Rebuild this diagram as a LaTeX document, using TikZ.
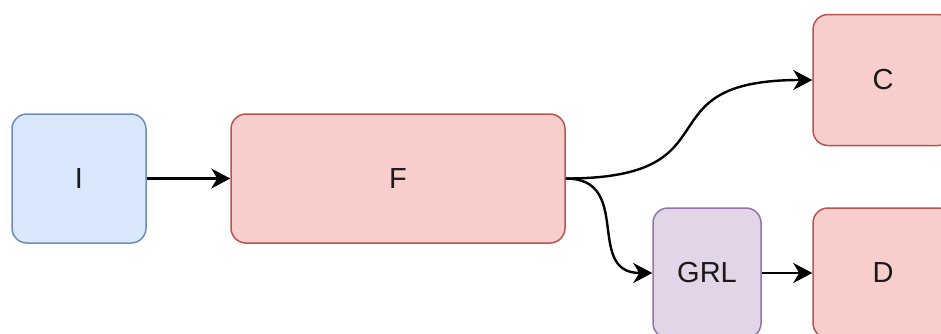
\documentclass[tikz,border=0pt]{standalone}
\usepackage{fontspec}
\setmainfont{Liberation Sans}
\usetikzlibrary{arrows.meta}
\definecolor{bluefill}{HTML}{DAE8FC}
\definecolor{bluedraw}{HTML}{6C8EBF}
\definecolor{redfill}{HTML}{F8CECC}
\definecolor{reddraw}{HTML}{B85450}
\definecolor{purpfill}{HTML}{E1D5E7}
\definecolor{purpdraw}{HTML}{9673A6}
\definecolor{txt}{HTML}{1A1A1A}
\tikzset{
  box/.style={rounded corners=15pt, line width=1.5pt, inner sep=0pt,
    font=\fontsize{29}{34}\selectfont, text=txt},
  bluebox/.style={box, fill=bluefill, draw=bluedraw},
  redbox/.style={box, fill=redfill, draw=reddraw},
  purpbox/.style={box, fill=purpfill, draw=purpdraw},
  conn/.style={line width=2.4pt, -{Stealth[length=19pt, width=20pt, inset=6pt]}}
}
\begin{document}
\begin{tikzpicture}[x=1pt, y=-1pt]
\useasboundingbox (0,0) rectangle (941,333);
\clip (0,0) rectangle (941,333);
\fill[white] (0,0) rectangle (941,333);
\node[bluebox, minimum width=134pt, minimum height=129pt] (I) at (79,178.5) {I};
\node[redbox, minimum width=334pt, minimum height=129pt] (F) at (398,178.5) {F};
\node[redbox, minimum width=140pt, minimum height=131pt] (C) at (883,80) {C};
\node[purpbox, minimum width=108pt, minimum height=130pt] (G) at (707,273) {GRL};
\node[redbox, minimum width=140pt, minimum height=130pt] (D) at (883,273) {D};
\draw[conn] (I) -- (F);
\draw[conn] (F.east) .. controls +(175,0) and +(-175,0) .. (C.west);
\draw[conn] (F.east) .. controls +(68,0) and +(-68,0) .. (G.west);
\draw[conn] (G) -- (D);
\end{tikzpicture}
\end{document}
